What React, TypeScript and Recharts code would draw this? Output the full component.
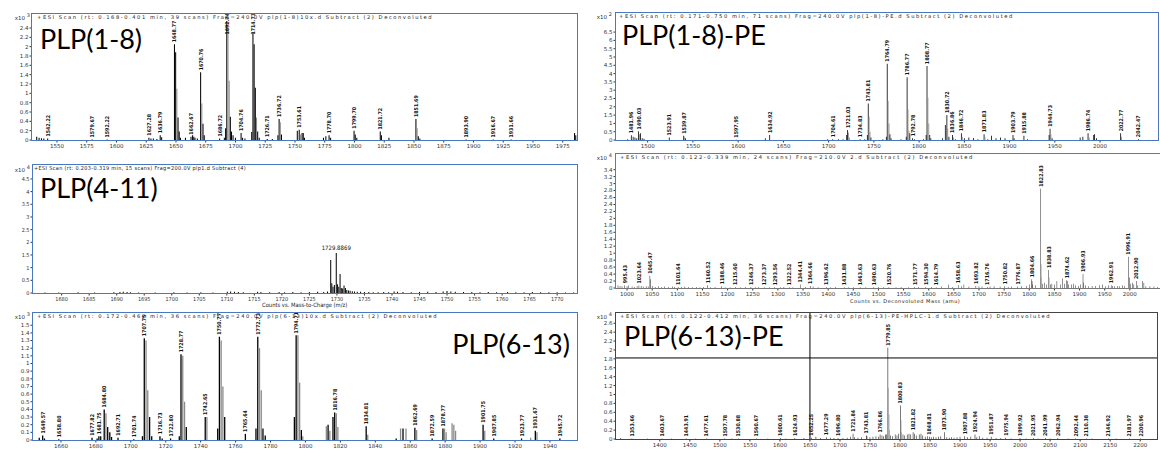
import { Bar, BarChart, Cell, LabelList, ReferenceLine, XAxis, YAxis } from "recharts";

type Peak = [number, number];

// ---------- PLP(1-8) ----------
const p1XTicks = [1550, 1575, 1600, 1625, 1650, 1675, 1700, 1725, 1750, 1775, 1800, 1825, 1850, 1875, 1900, 1925, 1950, 1975];
const p1YTicks = [0, 0.2, 0.4, 0.6, 0.8, 1, 1.2, 1.4, 1.6, 1.8, 2, 2.2, 2.4];
const p1Main: Peak[] = [
  [1533, 0.07], [1535, 0.05], [1537, 0.04], [1539, 0.03], [1542.22, 0.03], [1579.67, 0.01], [1592.22, 0.01],
  [1627.28, 0.05], [1629, 0.03], [1631, 0.03], [1634, 0.02], [1636.79, 0.1], [1638, 0.06],
  [1648.77, 2.05], [1649.77, 1.88], [1651.77, 0.48], [1652.77, 0.18], [1653.8, 0.05],
  [1658, 0.05], [1662.67, 0.07], [1664, 0.1], [1665, 0.07], [1666, 0.05], [1668, 0.03],
  [1670.76, 1.45], [1672.76, 0.35], [1673.8, 0.1], [1686.72, 0.03], [1690.7, 0.05], [1691.74, 0.25],
  [1692.74, 2.55], [1695.74, 0.5], [1696.7, 0.18], [1698, 0.1], [1700, 0.05], [1704.76, 0.15], [1706, 0.05],
  [1708, 0.03], [1713.7, 0.17], [1714.73, 2.3], [1715.73, 2.05], [1716.73, 1.12], [1718.7, 0.18], [1720, 0.05],
  [1726.71, 0.02], [1731, 0.02], [1735.7, 0.1], [1736.72, 0.45], [1738.7, 0.12],
  [1752, 0.2], [1753.61, 0.22], [1756, 0.15], [1757, 0.15], [1758, 0.05],
  [1774, 0.05], [1776, 0.08], [1778.7, 0.1], [1780, 0.05], [1799.7, 0.2], [1800.7, 0.12], [1802, 0.05],
  [1821.72, 0.18], [1822.7, 0.1], [1829, 0.05], [1851.69, 0.45], [1853.7, 0.08], [1855, 0.03],
  [1893.9, 0.01], [1916.67, 0.01], [1931.66, 0.01], [1985, 0.15], [1986, 0.1]
];
const p1Iso: Peak[] = [
  [1650.77, 1.1], [1671.76, 0.78], [1693.74, 2.4], [1694.74, 1.27], [1717.73, 0.48], [1737.72, 0.38],
  [1754.6, 0.12], [1852.69, 0.25]
];
const p1Labels = ["1542.22", "1579.67", "1592.22", "1627.28", "1636.79", "1648.77", "1662.67", "1670.76", "1686.72",
  "1692.74", "1704.76", "1714.73", "1726.71", "1736.72", "1753.61", "1778.70", "1799.70", "1821.72", "1851.69",
  "1893.90", "1916.67", "1931.66"];

// ---------- PLP(1-8)-PE ----------
const p2XTicks = [1500, 1550, 1600, 1650, 1700, 1750, 1800, 1850, 1900, 1950, 2000];
const p2YTicks = [0, 0.5, 1, 1.5, 2, 2.5, 3, 3.5, 4, 4.5, 5, 5.5, 6, 6.5];
const p2Main: Peak[] = [
  [1478, 0.05], [1481.96, 0.28], [1484, 0.2], [1486, 0.15], [1488, 0.1], [1490.03, 0.52], [1492, 0.4],
  [1494, 0.1], [1496, 0.08], [1523.91, 0.15], [1539.87, 0.25], [1542, 0.1], [1597.95, 0.02], [1630, 0.1],
  [1634.92, 0.3], [1699, 0.05], [1704.61, 0.05], [1711, 0.05], [1716, 0.05], [1720, 0.3], [1721.03, 0.6],
  [1734.83, 0.05], [1740, 0.05], [1742.8, 0.3], [1743.81, 2.2], [1746.8, 0.15], [1760, 0.05], [1763.8, 0.2],
  [1764.79, 4.6], [1767.8, 0.35], [1769, 0.1], [1780, 0.05], [1785.8, 0.2], [1786.77, 3.78], [1789.8, 0.4],
  [1792.78, 0.1], [1795, 0.05], [1805, 0.05], [1807.8, 0.3], [1808.77, 4.45], [1811.8, 0.3], [1813, 0.1],
  [1826, 0.1], [1829, 0.9], [1830.72, 1.5], [1833, 0.2], [1836.86, 0.3], [1840, 0.05], [1846.72, 0.4],
  [1850, 0.1], [1855, 0.15], [1860, 0.12], [1865, 0.05], [1871.83, 0.35], [1876, 0.05], [1880, 0.25],
  [1885, 0.1], [1890, 0.15], [1895, 0.1], [1903.79, 0.3], [1905, 0.1], [1915.88, 0.25], [1920, 0.05],
  [1943.7, 0.3], [1944.73, 0.68], [1947, 0.1], [1978, 0.15], [1981, 0.2], [1986.74, 0.4], [1993, 0.3],
  [1994, 0.35], [1996, 0.1], [2022.77, 0.4], [2042.47, 0.05]
];
const p2Iso: Peak[] = [
  [1491, 0.35], [1540.9, 0.2], [1722, 0.45], [1723, 0.15], [1744.81, 1.4], [1745.8, 0.5], [1765.79, 2.35],
  [1766.79, 1.0], [1787.77, 1.85], [1788.77, 0.55], [1809.77, 2.55], [1810.77, 1.0], [1831.7, 0.7],
  [1838, 0.15], [1847.7, 0.2], [1872.8, 0.2], [1945.7, 0.35], [1988, 0.15], [2023.8, 0.2]
];
const p2Labels = ["1481.96", "1490.03", "1523.91", "1539.87", "1597.95", "1634.92", "1704.61", "1721.03", "1734.83",
  "1743.81", "1764.79", "1786.77", "1792.78", "1808.77", "1830.72", "1836.86", "1846.72", "1871.83", "1903.79",
  "1915.88", "1944.73", "1986.74", "2022.77", "2042.47"];

// ---------- PLP(4-11) ----------
const p3XTicks = [1680, 1685, 1690, 1695, 1700, 1705, 1710, 1715, 1720, 1725, 1730, 1735, 1740, 1745, 1750, 1755, 1760, 1765, 1770];
const p3YTicks = [0, 0.5, 1, 1.5, 2, 2.5, 3, 3.5, 4, 4.5];
const p3Main: Peak[] = [
  [1677, 0.02], [1679.5, 0.02], [1683, 0.03], [1686, 0.02], [1689.5, 0.03], [1690.6, 0.04], [1691.2, 0.05],
  [1691.9, 0.04], [1692.5, 0.03], [1694, 0.02], [1697, 0.02], [1700.4, 0.03], [1702.8, 0.02], [1705.3, 0.03],
  [1707.5, 0.02], [1710.1, 0.05], [1710.7, 0.06], [1711.4, 0.05], [1712.1, 0.04], [1713, 0.03], [1715.6, 0.05],
  [1716.2, 0.04], [1717.8, 0.03], [1719.5, 0.04], [1720.5, 0.03], [1722, 0.04], [1723.5, 0.03], [1725, 0.04],
  [1726.5, 0.05], [1727.6, 0.04], [1728.3, 0.06], [1728.88, 1.3], [1729.08, 0.38], [1729.3, 0.25],
  [1729.55, 0.32], [1729.8869, 1.58], [1730.1, 0.35], [1730.35, 0.25], [1730.58, 0.75], [1730.8, 0.2],
  [1731.05, 0.18], [1731.3, 0.3], [1731.55, 0.2], [1731.8, 0.12], [1732.1, 0.1], [1732.4, 0.09], [1732.8, 0.07],
  [1733.2, 0.06], [1733.7, 0.05], [1734.3, 0.05], [1735, 0.04], [1735.8, 0.04], [1736.6, 0.03], [1737.5, 0.03],
  [1738.5, 0.04], [1739.4, 0.03], [1740.4, 0.06], [1741, 0.05], [1742, 0.04], [1743.5, 0.03], [1745, 0.04],
  [1746.5, 0.05], [1748, 0.04], [1749.3, 0.06], [1750, 0.08], [1750.7, 0.06], [1751.5, 0.05], [1753, 0.04],
  [1754.5, 0.04], [1756, 0.03], [1757.5, 0.04], [1759, 0.03], [1761, 0.04], [1762.5, 0.03], [1764, 0.03],
  [1765.5, 0.04], [1767, 0.03], [1768.5, 0.03], [1770, 0.03], [1771.5, 0.02], [1773, 0.02]
];
const p3Labels = ["1729.8869"];

// ---------- deconvoluted, 2.d ----------
const p4XTicks = [1000, 1050, 1100, 1150, 1200, 1250, 1300, 1350, 1400, 1450, 1500, 1550, 1600, 1650, 1700, 1750, 1800, 1850, 1900, 1950, 2000];
const p4YTicks = [0, 0.2, 0.4, 0.6, 0.8, 1, 1.2, 1.4, 1.6, 1.8, 2, 2.2, 2.4, 2.6, 2.8, 3, 3.2, 3.4];
const p4Main: Peak[] = [
  [982, 0.08], [986, 0.06], [990, 0.05], [995.43, 0.08], [1000, 0.05], [1003, 0.07], [1010, 0.04], [1015, 0.03],
  [1020, 0.05], [1023.64, 0.07], [1028, 0.06], [1032, 0.04], [1038, 0.05], [1042, 0.04], [1045.47, 0.35],
  [1047, 0.25], [1050, 0.06], [1056, 0.03], [1062, 0.05], [1068, 0.03], [1075, 0.04], [1082, 0.03], [1090, 0.04],
  [1095, 0.03], [1101.64, 0.03], [1108, 0.03], [1115, 0.04], [1122, 0.03], [1130, 0.02], [1138, 0.03],
  [1145, 0.02], [1152, 0.03], [1160.52, 0.08], [1166, 0.02], [1175, 0.03], [1188.46, 0.05], [1195, 0.02],
  [1205, 0.02], [1215.6, 0.03], [1225, 0.02], [1235, 0.03], [1246.37, 0.03], [1255, 0.02], [1262, 0.03],
  [1273.37, 0.02], [1283, 0.02], [1293.56, 0.02], [1305, 0.02], [1312, 0.03], [1322.52, 0.02], [1330, 0.02],
  [1344.41, 0.1], [1355, 0.03], [1364.66, 0.06], [1370, 0.04], [1380, 0.02], [1396.62, 0.03], [1405, 0.02],
  [1415, 0.03], [1431.88, 0.02], [1440, 0.02], [1450, 0.02], [1463.63, 0.02], [1475, 0.02], [1490.63, 0.02],
  [1500, 0.03], [1510, 0.02], [1520.76, 0.02], [1535, 0.02], [1545, 0.03], [1560, 0.02], [1571.77, 0.03],
  [1580, 0.03], [1594.3, 0.03], [1605, 0.03], [1614.79, 0.02], [1625, 0.04], [1640, 0.1], [1648, 0.03],
  [1658.63, 0.08], [1665, 0.05], [1670, 0.1], [1680, 0.04], [1693.82, 0.06], [1700, 0.05], [1706, 0.04],
  [1716.76, 0.03], [1722, 0.04], [1730, 0.05], [1742, 0.04], [1750.82, 0.05], [1758, 0.03], [1765, 0.04],
  [1776.87, 0.04], [1785, 0.05], [1795, 0.06], [1800, 0.1], [1804.66, 0.25], [1805.6, 0.2], [1807, 0.1],
  [1812, 0.08], [1822.83, 2.85], [1826, 0.12], [1830, 0.15], [1834, 0.1], [1838.83, 0.52], [1842, 0.1],
  [1845, 0.12], [1850, 0.1], [1855, 0.2], [1862, 0.1], [1866, 0.28], [1870, 0.12], [1874.62, 0.22], [1876, 0.2],
  [1878, 0.1], [1884, 0.1], [1888, 0.12], [1892, 0.08], [1898, 0.06], [1902, 0.1], [1906.93, 0.4],
  [1907.9, 0.15], [1912, 0.08], [1918, 0.05], [1925, 0.06], [1932, 0.06], [1940, 0.08], [1946, 0.1],
  [1952, 0.05], [1958, 0.08], [1962.91, 0.08], [1966, 0.06], [1970, 0.05], [1975, 0.06], [1980, 0.05],
  [1986, 0.08], [1990, 0.06], [1996.91, 0.9], [1999, 0.3], [2001, 0.12], [2005, 0.15], [2008, 0.1],
  [2012.9, 0.2], [2016, 0.08], [2025, 0.2], [2028, 0.15], [2032, 0.05], [2040, 0.05], [2048, 0.04], [2055, 0.03]
];
const p4Iso: Peak[] = [[1823.8, 0.68], [1824.8, 0.3], [1839.8, 0.3], [1997.9, 0.58]];
const p4Labels = ["995.43", "1023.64", "1045.47", "1101.64", "1160.52", "1188.46", "1215.60", "1246.37", "1273.37",
  "1293.56", "1322.52", "1344.41", "1364.66", "1396.62", "1431.88", "1463.63", "1490.63", "1520.76", "1571.77",
  "1594.30", "1614.79", "1658.63", "1693.82", "1716.76", "1750.82", "1776.87", "1804.66", "1822.83", "1838.83",
  "1874.62", "1906.93", "1962.91", "1996.91", "2012.90"];

// ---------- PLP(6-13) ----------
const p5XTicks = [1660, 1680, 1700, 1720, 1740, 1760, 1780, 1800, 1820, 1840, 1860, 1880, 1900, 1920, 1940];
const p5YTicks = [0, 0.1, 0.2, 0.3, 0.4, 0.5, 0.6, 0.7, 0.8, 0.9, 1, 1.1, 1.2, 1.3, 1.4, 1.5];
const p5Main: Peak[] = [
  [1647.6, 0.03], [1649.57, 0.06], [1650.6, 0.02], [1658.8, 0.01], [1677.82, 0.03], [1680.75, 0.02],
  [1681.75, 0.05], [1682.8, 0.05], [1684.8, 0.4], [1686.8, 0.17], [1688, 0.1], [1689, 0.04], [1692.71, 0.03],
  [1701.74, 0.01], [1706.7, 0.05], [1707.75, 1.33], [1710.8, 0.3], [1712, 0.05], [1716.73, 0.05], [1718, 0.02],
  [1722.8, 0.02], [1727.8, 0.05], [1728.77, 1.12], [1731.8, 0.17], [1742.65, 0.3], [1749.8, 0.15],
  [1750.77, 1.35], [1753.8, 0.3], [1765.64, 0.08], [1771.7, 0.15], [1772.73, 1.35], [1775.7, 0.15],
  [1777, 0.06], [1793.7, 0.3], [1794.71, 1.37], [1797.7, 0.13], [1813, 0.2], [1815.8, 0.3], [1816.78, 0.36],
  [1834.81, 0.18], [1852, 0.02], [1855.9, 0.15], [1862.69, 0.16], [1872.59, 0.02], [1878.77, 0.15],
  [1901.75, 0.2], [1907.85, 0.02], [1923.77, 0.02], [1931.67, 0.12], [1945.72, 0.02]
];
const p5Iso: Peak[] = [
  [1685.8, 0.35], [1708.75, 1.3], [1709.75, 0.65], [1729.77, 1.1], [1730.8, 0.5], [1743.6, 0.3],
  [1751.77, 1.3], [1752.77, 0.7], [1773.73, 1.2], [1774.73, 0.65], [1795.71, 1.37], [1796.71, 0.75],
  [1798.5, 0.05], [1812, 0.18], [1814, 0.12], [1817.7, 0.35], [1818.6, 0.17], [1835.7, 0.07], [1854.5, 0.15],
  [1857.6, 0.15], [1863.7, 0.13], [1879.7, 0.15], [1880.6, 0.1], [1884, 0.22], [1885, 0.2], [1886, 0.12],
  [1902.7, 0.12], [1929, 0.03], [1932.6, 0.1]
];
const p5Labels = ["1649.57", "1658.80", "1677.82", "1681.75", "1684.80", "1692.71", "1701.74", "1707.75", "1716.73",
  "1722.80", "1728.77", "1742.65", "1750.77", "1765.64", "1772.73", "1794.71", "1816.78", "1834.81", "1862.69",
  "1872.59", "1878.77", "1901.75", "1907.85", "1923.77", "1931.67", "1945.72"];

// ---------- PLP(6-13)-PE ----------
const p6XTicks = [1400, 1450, 1500, 1550, 1600, 1650, 1700, 1750, 1800, 1850, 1900, 1950, 2000, 2050, 2100, 2150, 2200];
const p6YTicks = [0, 0.2, 0.4, 0.6, 0.8, 1, 1.2, 1.4, 1.6, 1.8, 2, 2.2, 2.4, 2.6];
const p6Main: Peak[] = [
  [1335, 0.02], [1353.66, 0.01], [1380, 0.01], [1403.67, 0.01], [1420, 0.01], [1443.91, 0.01], [1460, 0.01],
  [1477.61, 0.01], [1507.78, 0.01], [1520, 0.01], [1530.88, 0.01], [1560.67, 0.01], [1580, 0.01],
  [1600.61, 0.02], [1610, 0.01], [1624.93, 0.02], [1640, 0.02], [1652.25, 0.03], [1660, 0.05], [1668, 0.02],
  [1677.29, 0.04], [1684, 0.03], [1690, 0.02], [1696.8, 0.02], [1705, 0.02], [1712, 0.03], [1718, 0.05],
  [1721.84, 0.12], [1724, 0.04], [1730, 0.03], [1736, 0.04], [1743.81, 0.08], [1745, 0.06], [1750, 0.04],
  [1755, 0.05], [1760, 0.06], [1764, 0.05], [1766.86, 0.1], [1770, 0.08], [1773, 0.06], [1776, 0.1],
  [1778, 0.1], [1779.85, 2.05], [1784, 0.08], [1788, 0.06], [1792, 0.1], [1795, 0.08], [1798, 0.12],
  [1800.83, 0.75], [1805, 0.1], [1808, 0.08], [1812, 0.1], [1815, 0.12], [1818, 0.1], [1821.82, 0.15],
  [1824, 0.12], [1827, 0.08], [1832, 0.1], [1835, 0.12], [1838, 0.08], [1842, 0.05], [1846, 0.06],
  [1848.81, 0.05], [1852, 0.04], [1856, 0.05], [1860, 0.04], [1864, 0.05], [1868, 0.06], [1873.9, 0.15],
  [1878, 0.04], [1882, 0.03], [1886, 0.04], [1890, 0.03], [1895, 0.04], [1900, 0.05], [1907.88, 0.06],
  [1912, 0.04], [1918, 0.05], [1924.94, 0.1], [1928, 0.04], [1932, 0.06], [1938, 0.03], [1945, 0.03],
  [1951.87, 0.05], [1960, 0.02], [1968, 0.02], [1975.94, 0.03], [1985, 0.01], [1999.92, 0.02], [2010, 0.01],
  [2021.95, 0.02], [2030, 0.01], [2041.99, 0.02], [2050, 0.01], [2062.94, 0.02], [2080, 0.01], [2092.44, 0.01],
  [2110.38, 0.01], [2120, 0.01], [2146.92, 0.01], [2160, 0.01], [2181.97, 0.01], [2200.96, 0.01]
];
const p6Iso: Peak[] = [[1780.85, 1.15], [1781.85, 0.55], [1782.85, 0.2], [1801.83, 0.42], [1802.8, 0.15]];
const p6Labels = ["1353.66", "1403.67", "1443.91", "1477.61", "1507.78", "1530.88", "1560.67", "1600.61", "1624.93",
  "1652.25", "1677.29", "1696.80", "1721.84", "1743.81", "1766.86", "1779.85", "1800.83", "1821.82", "1848.81",
  "1873.90", "1907.88", "1924.94", "1951.87", "1975.94", "1999.92", "2021.95", "2041.99", "2062.94", "2092.44",
  "2110.38", "2146.92", "2181.97", "2200.96"];

const BLUE = "#4a78c0";
const AXIS_H = 12;
const NARROW = "DejaVu Sans Condensed";

function buildRows(main: Peak[], iso: Peak[], labels: string[]) {
  const rows = [
    ...main.map(([m, v]) => ({ m, v, g: false, label: "" })),
    ...iso.map(([m, v]) => ({ m, v, g: true, label: "" }))
  ];
  rows.forEach((r) => {
    const hit = labels.find((l) => Number(l) === r.m);
    if (hit && !r.g) r.label = hit;
  });
  return rows.sort((a, b) => a.m - b.m);
}

function StickLabel(props: any) {
  const { x, y, width, value } = props;
  if (!value) return null;
  const cx = Number(x) + Number(width) / 2;
  const len = String(value).length * 2.8;
  const top = Math.max(Number(y) - 2, len + 1);
  return (
    <text
      x={cx}
      y={top}
      dy={2}
      transform={`rotate(-90 ${cx} ${top})`}
      fontSize={5.3}
      fontWeight="bold"
      fontFamily={NARROW}
      fill="#111"
    >
      {value}
    </text>
  );
}

function FlatLabel(props: any) {
  const { x, y, width, value } = props;
  if (!value) return null;
  return (
    <text x={Number(x) + Number(width) / 2} y={Number(y) - 3} textAnchor="middle" fontSize={6}
      fontFamily={NARROW} fill="#111">
      {value}
    </text>
  );
}

type PanelProps = {
  left: number;
  top: number;
  width: number;
  height: number;
  yAxisW: number;
  xDomain: [number, number];
  xTicks: number[];
  yMax: number;
  yTicks: number[];
  main: Peak[];
  iso?: Peak[];
  labels: string[];
  frame: string;
  font?: string;
  flat?: boolean;
  refX?: number;
  refY?: number;
};

function Spectrum(p: PanelProps) {
  const rows = buildRows(p.main, p.iso ?? [], p.labels);
  const font = p.font ?? "DejaVu Sans";
  const tick = { fontSize: 5.5, fill: "#333", fontFamily: font };
  return (
    <div style={{ position: "absolute", left: p.left - p.yAxisW, top: p.top }}>
      <BarChart
        width={p.width + p.yAxisW}
        height={p.height + AXIS_H}
        data={rows}
        margin={{ top: 0, right: 0, bottom: 0, left: 0 }}
      >
        <XAxis
          type="number"
          dataKey="m"
          domain={p.xDomain}
          ticks={p.xTicks}
          interval={0}
          allowDataOverflow
          axisLine={false}
          tickSize={2.5}
          tickLine={{ stroke: "#333" }}
          tick={tick}
          height={AXIS_H}
        />
        <YAxis
          type="number"
          domain={[0, p.yMax]}
          ticks={p.yTicks}
          interval={0}
          allowDataOverflow
          axisLine={false}
          tickSize={2.5}
          tickMargin={1}
          tickLine={{ stroke: "#333" }}
          tick={tick}
          width={p.yAxisW}
        />
        <Bar dataKey="v" barSize={1.3} isAnimationActive={false}>
          {rows.map((r, i) => (
            <Cell key={i} fill={r.g ? "#8a8a8a" : "#000"} />
          ))}
          <LabelList dataKey="label" content={p.flat ? FlatLabel : StickLabel} />
        </Bar>
        {p.refX !== undefined && <ReferenceLine x={p.refX} stroke="#000" strokeWidth={1} />}
        {p.refY !== undefined && <ReferenceLine y={p.refY} stroke="#000" strokeWidth={1} />}
      </BarChart>
      <div
        style={{
          position: "absolute",
          left: p.yAxisW - 0.75,
          top: -0.75,
          width: p.width + 1.5,
          height: p.height + 1.5,
          border: `1.5px solid ${p.frame}`,
          boxSizing: "border-box",
          pointerEvents: "none"
        }}
      />
    </div>
  );
}

const titleStyle = { position: "absolute" as const, fontFamily: "Lato", fontSize: 27, lineHeight: 1, color: "#000" };
const headStyle = {
  position: "absolute" as const,
  fontFamily: "DejaVu Sans",
  fontSize: 5.2,
  letterSpacing: 1.55,
  color: "#222",
  whiteSpace: "nowrap" as const
};
const expStyle = {
  position: "absolute" as const,
  fontFamily: "DejaVu Sans",
  fontSize: 5.5,
  color: "#333",
  width: 26,
  textAlign: "right" as const
};

function Exp({ left, top, n }: { left: number; top: number; n: number }) {
  return (
    <div style={{ ...expStyle, left, top }}>
      x10 <sup style={{ fontSize: 5 }}>{n}</sup>
    </div>
  );
}

export default function App() {
  return (
    <div style={{ position: "absolute", left: 0, top: 0, width: 1160, height: 459, background: "#fff", overflow: "hidden" }}>
      <Spectrum left={32} top={14} width={545} height={126} yAxisW={30} xDomain={[1529, 1987]} xTicks={p1XTicks}
        yMax={2.7} yTicks={p1YTicks} main={p1Main} iso={p1Iso} labels={p1Labels} frame={BLUE} />
      <Spectrum left={616} top={13} width={542} height={127} yAxisW={28} xDomain={[1465, 2064]} xTicks={p2XTicks}
        yMax={7.65} yTicks={p2YTicks} main={p2Main} iso={p2Iso} labels={p2Labels} frame={BLUE} />
      <Spectrum left={33} top={165} width={544} height={128} yAxisW={30} xDomain={[1674.8, 1773.6]} xTicks={p3XTicks}
        yMax={5.05} yTicks={p3YTicks} main={p3Main} labels={p3Labels} frame={BLUE} font={NARROW} flat />
      <Spectrum left={616} top={154} width={544} height={134} yAxisW={28} xDomain={[978, 2060]} xTicks={p4XTicks}
        yMax={3.85} yTicks={p4YTicks} main={p4Main} iso={p4Iso} labels={p4Labels} frame="#777" />
      <Spectrum left={33} top={313} width={544} height={127} yAxisW={30} xDomain={[1644, 1955.5]} xTicks={p5XTicks}
        yMax={1.66} yTicks={p5YTicks} main={p5Main} iso={p5Iso} labels={p5Labels} frame={BLUE} />
      <Spectrum left={616} top={313} width={541} height={126} yAxisW={28} xDomain={[1327, 2228]} xTicks={p6XTicks}
        yMax={2.83} yTicks={p6YTicks} main={p6Main} iso={p6Iso} labels={p6Labels} frame="#444" refX={1650} refY={1.82} />

      <div style={{ ...headStyle, left: 37, top: 14 }}>
        +ESI Scan (rt: 0.168-0.401 min, 39 scans) Frag=240.0V plp(1-8)10x.d  Subtract (2) Deconvoluted
      </div>
      <div style={{ ...headStyle, left: 619, top: 13 }}>
        +ESI Scan (rt: 0.171-0.750 min, 71 scans) Frag=240.0V plp(1-8)-PE.d  Subtract (2) Deconvoluted
      </div>
      <div style={{ ...headStyle, left: 34, top: 165, fontFamily: NARROW, fontSize: 5.5, letterSpacing: 0.35 }}>
        +ESI Scan (rt: 0.203-0.319 min, 15 scans)  Frag=200.0V plp1.d  Subtract (4)
      </div>
      <div style={{ ...headStyle, left: 620, top: 154 }}>
        +ESI Scan (rt: 0.122-0.339 min, 24 scans) Frag=210.0V 2.d  Subtract (2) Deconvoluted
      </div>
      <div style={{ ...headStyle, left: 37, top: 313 }}>
        +ESI Scan (rt: 0.172-0.462 min, 36 scans) Frag=240.0V plp(6-13)10x.d  Subtract (2) Deconvoluted
      </div>
      <div style={{ ...headStyle, left: 620, top: 313 }}>
        +ESI Scan (rt: 0.122-0.412 min, 36 scans) Frag=240.0V plp(6-13)-PE-HPLC-1.d  Subtract (2) Deconvoluted
      </div>

      <Exp left={4} top={12} n={3} />
      <Exp left={586} top={11} n={2} />
      <Exp left={4} top={164} n={4} />
      <Exp left={586} top={152} n={4} />
      <Exp left={4} top={311} n={3} />
      <Exp left={586} top={311} n={4} />

      <div style={{ ...headStyle, left: 262, top: 302, fontFamily: NARROW, fontSize: 5.8, letterSpacing: 0 }}>
        Counts vs. Mass-to-Charge (m/z)
      </div>
      <div style={{ ...headStyle, left: 850, top: 298, fontSize: 5, letterSpacing: 0.5 }}>
        Counts vs. Deconvoluted Mass (amu)
      </div>

      <div style={{ ...titleStyle, left: 40, top: 25 }}>PLP(1-8)</div>
      <div style={{ ...titleStyle, left: 622, top: 21 }}>PLP(1-8)-PE</div>
      <div style={{ ...titleStyle, left: 40, top: 174 }}>PLP(4-11)</div>
      <div style={{ ...titleStyle, left: 440, top: 330, width: 130, textAlign: "right" }}>PLP(6-13)</div>
      <div style={{ ...titleStyle, left: 624, top: 322 }}>PLP(6-13)-PE</div>
    </div>
  );
}
